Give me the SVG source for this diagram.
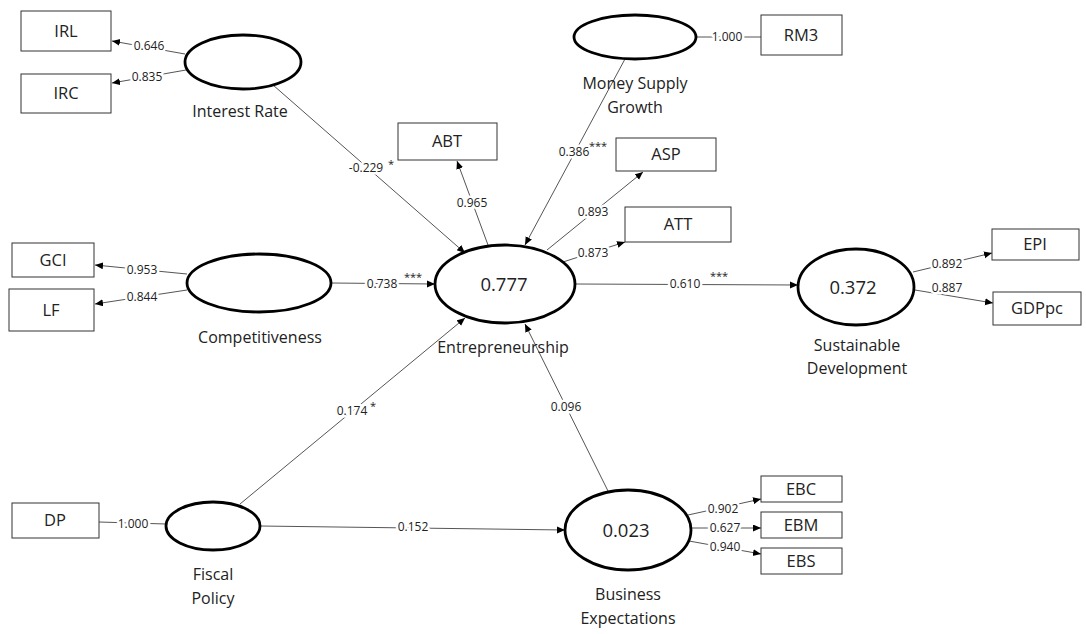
<svg xmlns="http://www.w3.org/2000/svg" width="1086" height="634" viewBox="0 0 1086 634">
<style>
text{font-family:"Open Sans","Noto Sans",sans-serif;fill:#222}
.lv{fill:#fff;stroke:#000;stroke-width:2.8}
.bx{fill:#fff;stroke:#333;stroke-width:1}
.bt{font-size:16.5px;text-anchor:middle}
.lt{font-size:16px;text-anchor:middle}
.r2{font-size:18.5px;text-anchor:middle}
.ln{fill:none;stroke:#555;stroke-width:1}
.co{font-size:12px;text-anchor:middle;stroke:#fff;stroke-width:5;paint-order:stroke;stroke-linejoin:round}
.st{font-size:11px;text-anchor:middle}
</style>
<defs>
<marker id="ah" markerUnits="userSpaceOnUse" markerWidth="9" markerHeight="8" refX="8" refY="3.5" orient="auto">
<path d="M0,0 L8,3.5 L0,7 z" fill="#000"/>
</marker>
</defs>
<g id="connectors">
<line class="ln" x1="185" y1="54" x2="112" y2="41" marker-end="url(#ah)"/>
<line class="ln" x1="186" y1="70" x2="112" y2="83" marker-end="url(#ah)"/>
<line class="ln" x1="696" y1="37" x2="761" y2="37"/>
<line class="ln" x1="187" y1="274" x2="95" y2="265" marker-end="url(#ah)"/>
<line class="ln" x1="187" y1="290" x2="95" y2="304" marker-end="url(#ah)"/>
<line class="ln" x1="488" y1="245" x2="457" y2="161" marker-end="url(#ah)"/>
<line class="ln" x1="547" y1="250" x2="643" y2="172" marker-end="url(#ah)"/>
<line class="ln" x1="563" y1="262" x2="625" y2="242" marker-end="url(#ah)"/>
<line class="ln" x1="913" y1="272" x2="992" y2="253" marker-end="url(#ah)"/>
<line class="ln" x1="915" y1="290" x2="993" y2="303" marker-end="url(#ah)"/>
<line class="ln" x1="99" y1="522" x2="166" y2="524"/>
<line class="ln" x1="688" y1="515" x2="761" y2="499" marker-end="url(#ah)"/>
<line class="ln" x1="691" y1="528" x2="761" y2="528" marker-end="url(#ah)"/>
<line class="ln" x1="689" y1="541" x2="761" y2="554" marker-end="url(#ah)"/>
<line class="ln" x1="273" y1="85" x2="465" y2="253" marker-end="url(#ah)"/>
<line class="ln" x1="625" y1="59" x2="525" y2="245" marker-end="url(#ah)"/>
<line class="ln" x1="331" y1="283" x2="435" y2="284" marker-end="url(#ah)"/>
<line class="ln" x1="240" y1="504" x2="465" y2="318" marker-end="url(#ah)"/>
<line class="ln" x1="608" y1="491" x2="525" y2="324" marker-end="url(#ah)"/>
<line class="ln" x1="575" y1="284" x2="798" y2="285" marker-end="url(#ah)"/>
<line class="ln" x1="260" y1="526" x2="565" y2="530" marker-end="url(#ah)"/>
<text class="co" x="149" y="50">0.646</text>
<text class="co" x="147" y="81">0.835</text>
<text class="co" x="727" y="41">1.000</text>
<text class="co" x="142" y="274">0.953</text>
<text class="co" x="142" y="301">0.844</text>
<text class="co" x="472" y="207">0.965</text>
<text class="co" x="593" y="216">0.893</text>
<text class="co" x="593" y="257">0.873</text>
<text class="co" x="947" y="268">0.892</text>
<text class="co" x="947" y="292">0.887</text>
<text class="co" x="133" y="528">1.000</text>
<text class="co" x="723" y="513">0.902</text>
<text class="co" x="725" y="532">0.627</text>
<text class="co" x="725" y="551">0.940</text>
<text class="co" x="366" y="172">-0.229</text>
<text class="st" x="391" y="168">*</text>
<text class="co" x="574" y="156">0.386</text>
<text class="st" x="598" y="150">***</text>
<text class="co" x="382" y="288">0.738</text>
<text class="st" x="413" y="281">***</text>
<text class="co" x="352" y="415">0.174</text>
<text class="st" x="373" y="410">*</text>
<text class="co" x="566" y="411">0.096</text>
<text class="co" x="685" y="288">0.610</text>
<text class="st" x="719" y="280">***</text>
<text class="co" x="413" y="531">0.152</text>
</g>
<g id="IRL"><rect class="bx" x="21" y="11" width="90" height="40"/><text class="bt" x="66" y="37">IRL</text></g>
<g id="IRC"><rect class="bx" x="21" y="74" width="90" height="39"/><text class="bt" x="66" y="99">IRC</text></g>
<g id="RM3"><rect class="bx" x="761" y="15" width="81" height="40"/><text class="bt" x="801" y="41">RM3</text></g>
<g id="ABT"><rect class="bx" x="398" y="123" width="99" height="37"/><text class="bt" x="447" y="147">ABT</text></g>
<g id="ASP"><rect class="bx" x="616" y="138" width="100" height="33"/><text class="bt" x="666" y="160">ASP</text></g>
<g id="ATT"><rect class="bx" x="625" y="207" width="106" height="35"/><text class="bt" x="678" y="230">ATT</text></g>
<g id="GCI"><rect class="bx" x="12" y="243" width="82" height="34"/><text class="bt" x="53" y="266">GCI</text></g>
<g id="LF"><rect class="bx" x="9" y="289" width="85" height="42"/><text class="bt" x="51" y="316">LF</text></g>
<g id="EPI"><rect class="bx" x="992" y="229" width="87" height="31"/><text class="bt" x="1035" y="250">EPI</text></g>
<g id="GDPpc"><rect class="bx" x="993" y="292" width="88" height="33"/><text class="bt" x="1037" y="314">GDPpc</text></g>
<g id="DP"><rect class="bx" x="12" y="503" width="87" height="35"/><text class="bt" x="55" y="526">DP</text></g>
<g id="EBC"><rect class="bx" x="761" y="476" width="81" height="26"/><text class="bt" x="801" y="495">EBC</text></g>
<g id="EBM"><rect class="bx" x="761" y="512" width="81" height="26"/><text class="bt" x="801" y="531">EBM</text></g>
<g id="EBS"><rect class="bx" x="761" y="548" width="81" height="26"/><text class="bt" x="801" y="567">EBS</text></g>
<g id="InterestRate"><ellipse class="lv" cx="243" cy="62" rx="58" ry="27"/><text class="lt" x="240" y="117">Interest Rate</text></g>
<g id="MoneySupplyGrowth"><ellipse class="lv" cx="635" cy="37" rx="61" ry="22"/><text class="lt" x="635" y="89">Money Supply</text><text class="lt" x="635" y="113">Growth</text></g>
<g id="Competitiveness"><ellipse class="lv" cx="259" cy="283" rx="72" ry="29"/><text class="lt" x="260" y="343">Competitiveness</text></g>
<g id="Entrepreneurship"><ellipse class="lv" cx="505" cy="284" rx="70" ry="39"/><text class="r2" x="504" y="291">0.777</text><text class="lt" x="503" y="353">Entrepreneurship</text></g>
<g id="SustainableDevelopment"><ellipse class="lv" cx="856" cy="287" rx="58" ry="38"/><text class="r2" x="853" y="294">0.372</text><text class="lt" x="857" y="351">Sustainable</text><text class="lt" x="857" y="374">Development</text></g>
<g id="FiscalPolicy"><ellipse class="lv" cx="213" cy="526" rx="47" ry="24"/><text class="lt" x="213" y="580">Fiscal</text><text class="lt" x="213" y="604">Policy</text></g>
<g id="BusinessExpectations"><ellipse class="lv" cx="628" cy="530" rx="63" ry="40"/><text class="r2" x="626" y="537">0.023</text><text class="lt" x="628" y="600">Business</text><text class="lt" x="628" y="624">Expectations</text></g>
</svg>
